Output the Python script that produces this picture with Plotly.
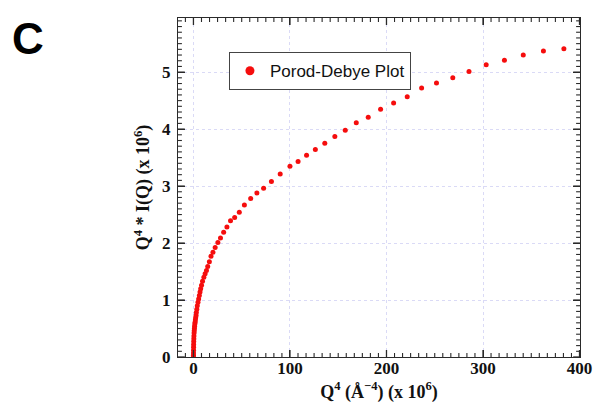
import plotly.graph_objects as go

# Q^4 (x 1e6) and Q^4*I(Q) (x 1e6)
q4 = [0.0, 0.02, 0.05, 0.1, 0.15, 0.2, 0.3, 0.4, 0.5, 0.65, 0.8, 1.0, 1.2, 1.45,
      1.7, 2.0, 2.3, 2.7, 3.0, 3.5, 4.0, 4.7, 5.4, 6.1, 6.8, 7.5, 8.4, 9.4,
      10.8, 12.1, 13.5, 14.8, 16.5, 18.2, 20.2, 22.5, 25.3, 28.0, 31.3, 34.7,
      38.4, 42.7, 47.5, 52.8, 59.3, 65.7, 72.7, 80.8, 89.9, 100.0, 108.4,
      117.2, 126.3, 136.1, 146.5, 157.3, 168.7, 181.1, 193.9, 207.4, 221.5,
      236.4, 251.8, 268.7, 285.5, 303.3, 322.2, 341.7, 362.6, 383.8]
iq = [0.0, 0.03, 0.07, 0.12, 0.17, 0.22, 0.27, 0.32, 0.37, 0.42, 0.46, 0.50,
      0.54, 0.58, 0.61, 0.65, 0.69, 0.73, 0.78, 0.84, 0.90, 0.96, 1.02, 1.08,
      1.14, 1.20, 1.26, 1.33, 1.40, 1.46, 1.52, 1.59, 1.67, 1.77, 1.84, 1.92,
      2.01, 2.09, 2.19, 2.28, 2.39, 2.45, 2.54, 2.67, 2.78, 2.88, 2.96, 3.08,
      3.21, 3.35, 3.43, 3.54, 3.64, 3.75, 3.87, 3.98, 4.11, 4.21, 4.35, 4.46,
      4.57, 4.72, 4.81, 4.90, 5.01, 5.13, 5.21, 5.30, 5.37, 5.41]

x_tick_step = 100
y_tick_step = 1
x_minor_per_major = 12
y_minor_per_major = 10
x_range = [-16, 400.5]
y_range = [0, 5.95]
series_name = "Porod-Debye Plot"

RED = "#f50d0d"
TICK = "#2a2a2a"
serif = "Liberation Serif, Times New Roman, serif"
sans = "Liberation Sans, Arial, Helvetica, sans-serif"

W, H = 604, 413
L, R, T, B = 178, 14, 18, 56
pw, ph = W - L - R, H - T - B

fig = go.Figure()
fig.add_trace(go.Scatter(x=q4, y=iq, mode="markers",
                         marker=dict(color=RED, size=5), showlegend=False,
                         cliponaxis=True))
fig.add_trace(go.Scatter(x=[None], y=[None], mode="markers", name=series_name,
                         marker=dict(color=RED, size=9), showlegend=True))

axis_common = dict(
    showline=True, linecolor=TICK, linewidth=1.4, mirror="ticks",
    ticks="inside", ticklen=7, tickwidth=1.3, tickcolor=TICK,
    showgrid=True, gridcolor="#dadaf6", gridwidth=1, griddash="dot",
    zeroline=False, tickmode="linear", tick0=0,
    tickfont=dict(family=serif, size=17, color="#111111", weight="bold"),
)

fig.update_xaxes(range=x_range, dtick=x_tick_step, ticklabelstandoff=-5,
                 title=dict(text="Q<sup>4</sup> (Å<sup>−4</sup>) (x 10<sup>6</sup>)",
                            font=dict(family=serif, size=18, color="#111111", weight="bold"),
                            standoff=8),
                 **axis_common)
fig.update_yaxes(range=y_range, dtick=y_tick_step, ticklabelstandoff=3,
                 title=dict(text="Q<sup>4</sup> * I(Q) (x 10<sup>6</sup>)",
                            font=dict(family=serif, size=18, color="#111111", weight="bold"),
                            standoff=7),
                 **axis_common)

# inward tick marks on all four sides (major + minor), at axis positions
shapes = []
xs = x_tick_step / x_minor_per_major
k = int(x_range[0] // xs)
while k * xs <= x_range[1]:
    v = k * xs
    if v >= x_range[0]:
        ln = 7 if k % x_minor_per_major == 0 else 4
        wd = 1.3 if ln == 7 else 1.1
        for y0, y1 in ((0, ln / ph), (1, 1 - ln / ph)):
            shapes.append(dict(type="line", xref="x", yref="paper", x0=v, x1=v,
                               y0=y0, y1=y1, layer="above",
                               line=dict(color=TICK, width=wd)))
    k += 1
ys = y_tick_step / y_minor_per_major
k = 0
while k * ys <= y_range[1] + 1e-9:
    v = k * ys
    ln = 7 if k % y_minor_per_major == 0 else 4
    wd = 1.3 if ln == 7 else 1.1
    for x0, x1 in ((0, ln / pw), (1, 1 - ln / pw)):
        shapes.append(dict(type="line", xref="paper", yref="y", x0=x0, x1=x1,
                           y0=v, y1=v, layer="above",
                           line=dict(color=TICK, width=wd)))
    k += 1

fig.update_layout(
    width=W, height=H,
    margin=dict(l=L, r=R, t=T, b=B),
    plot_bgcolor="white", paper_bgcolor="white",
    shapes=shapes,
    legend=dict(x=(230 - L) / pw, y=(H - B - 52) / ph, xanchor="left", yanchor="top",
                bgcolor="white", bordercolor="#444444", borderwidth=1.2,
                font=dict(family=sans, size=17, color="#111111"),
                itemwidth=30, tracegroupgap=0),
    annotations=[dict(text="<b>C</b>", x=(6 - L) / pw, y=(H - B - 12) / ph,
                      xref="paper", yref="paper", xanchor="left", yanchor="top",
                      showarrow=False,
                      font=dict(family=sans, size=44, color="black"))],
)

fig.write_html("out.html", config={"displayModeBar": False},
               post_script="document.body.style.margin='0px';document.body.style.padding='0px';")
